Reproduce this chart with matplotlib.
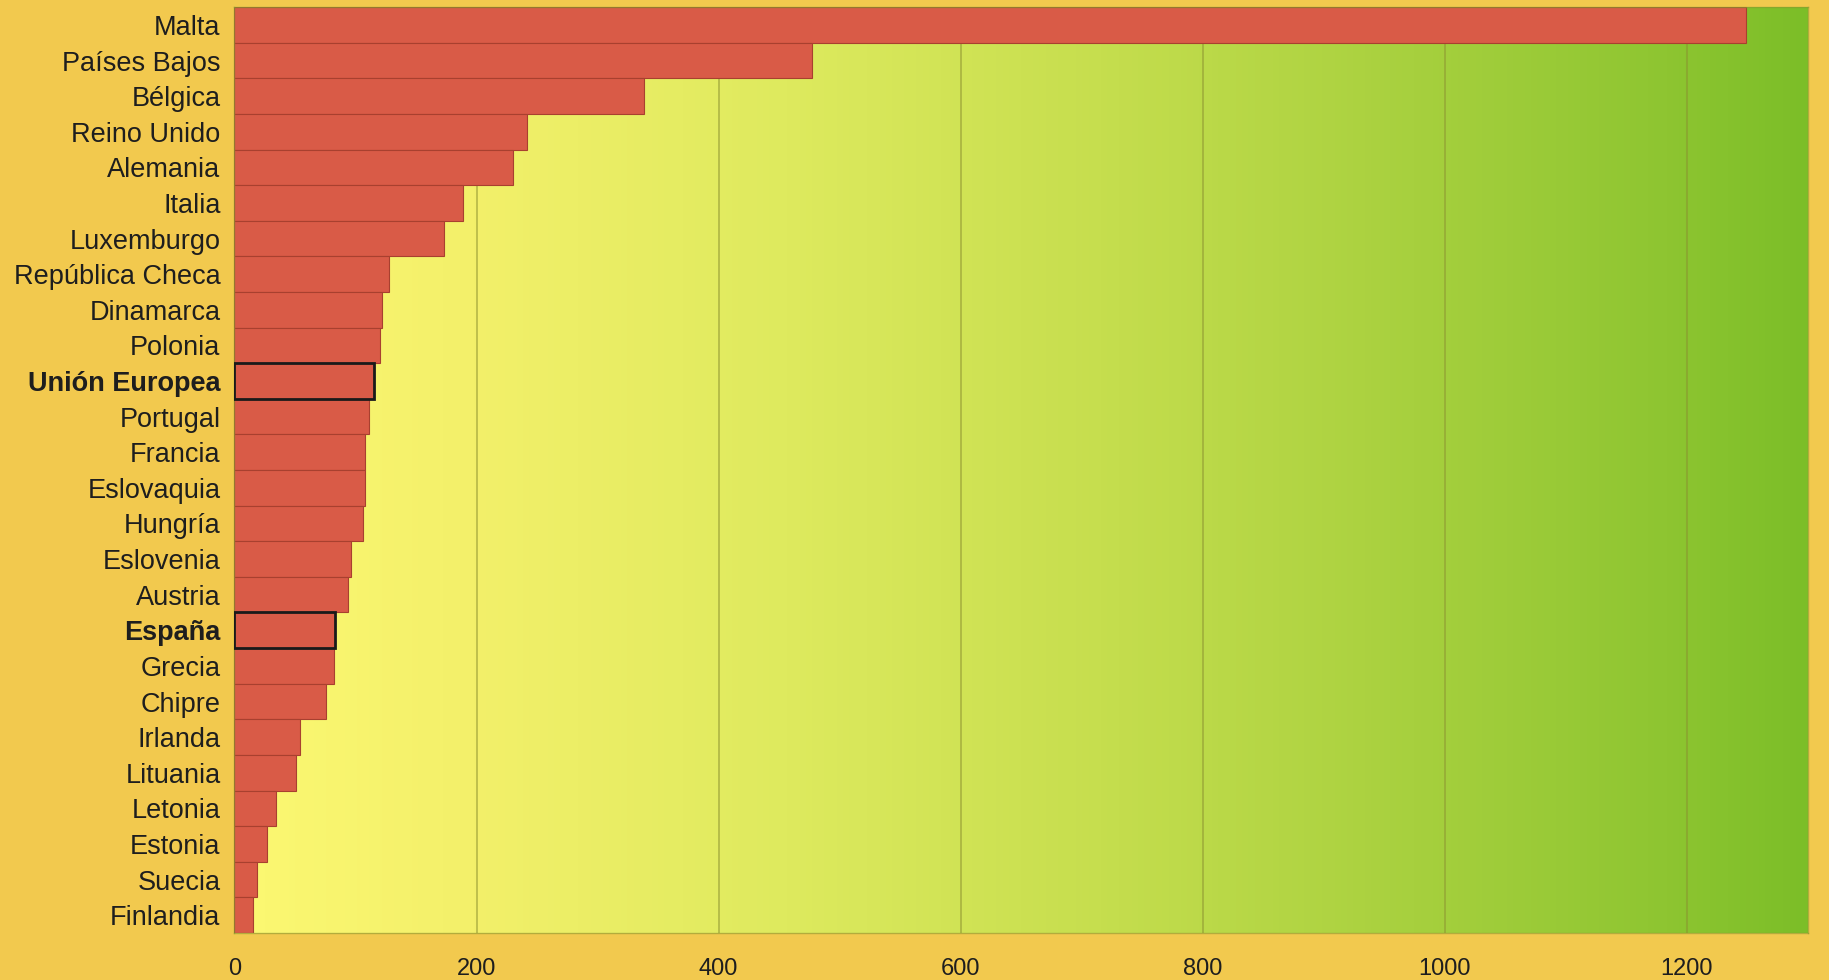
import numpy as np
import matplotlib
matplotlib.use('Agg')
import matplotlib.pyplot as plt
from matplotlib.colors import LinearSegmentedColormap

# Countries, top to bottom as shown
countries = ['Malta', 'Países Bajos', 'Bélgica', 'Reino Unido', 'Alemania',
             'Italia', 'Luxemburgo', 'República Checa', 'Dinamarca', 'Polonia',
             'Unión Europea', 'Portugal', 'Francia', 'Eslovaquia', 'Hungría',
             'Eslovenia', 'Austria', 'España', 'Grecia', 'Chipre', 'Irlanda',
             'Lituania', 'Letonia', 'Estonia', 'Suecia', 'Finlandia']
values = [1249, 477, 338, 242, 230, 189, 173, 128, 122, 120,
          115, 111, 108, 108, 106, 96, 94, 83, 82, 76, 54,
          51, 34, 27, 19, 15]
highlighted = ['Unión Europea', 'España']
x_ticks = [0, 200, 400, 600, 800, 1000, 1200]

plt.rcParams['font.family'] = ['Liberation Sans', 'DejaVu Sans']

fig = plt.figure(figsize=(18.29, 9.8), dpi=100, facecolor='#F2C94E')
ax = fig.add_axes([0.1282, 0.048, 0.8603, 0.9447])

n = len(countries)
xmax = 1300

# background gradient yellow -> green
grad_cmap = LinearSegmentedColormap.from_list('bg', [
    (0.0, '#FCF872'), (0.15, '#F3F06A'), (0.35, '#DEEA5E'),
    (0.55, '#C6DE4E'), (0.75, '#A7D03E'), (0.9, '#90C632'), (1.0, '#7CBE28')])
ax.imshow(np.linspace(0, 1, 256)[None, :], cmap=grad_cmap, aspect='auto',
          extent=[0, xmax, n - 0.5, -0.5], zorder=0)

y = np.arange(n)
bars = ax.barh(y, values, height=1.0, color='#D95B47',
               edgecolor='#A8402F', linewidth=0.8, zorder=2)
for bar, name in zip(bars, countries):
    if name in highlighted:
        bar.set_edgecolor('#1a1a1a')
        bar.set_linewidth(2.0)
        bar.set_zorder(3)

ax.set_xlim(0, xmax)
ax.set_ylim(n - 0.5, -0.5)
ax.set_yticks(y)
ax.set_yticklabels(countries, fontsize=19.5, color='#1e1e1e')
for lbl in ax.get_yticklabels():
    if lbl.get_text() in highlighted:
        lbl.set_fontweight('bold')
ax.set_xticks(x_ticks)
ax.set_xticklabels([str(t) for t in x_ticks], fontsize=17, color='#1e1e1e')
ax.tick_params(axis='both', length=0)
ax.tick_params(axis='x', pad=18)
ax.tick_params(axis='y', pad=10)

ax.grid(axis='x', color='#8c9230', alpha=0.55, linewidth=1.3)
ax.set_axisbelow(True)
for s in ax.spines.values():
    s.set_color('#8a9a30')
    s.set_alpha(0.6)
    s.set_linewidth(1.0)

fig.savefig('out.png', dpi=100, facecolor=fig.get_facecolor())
